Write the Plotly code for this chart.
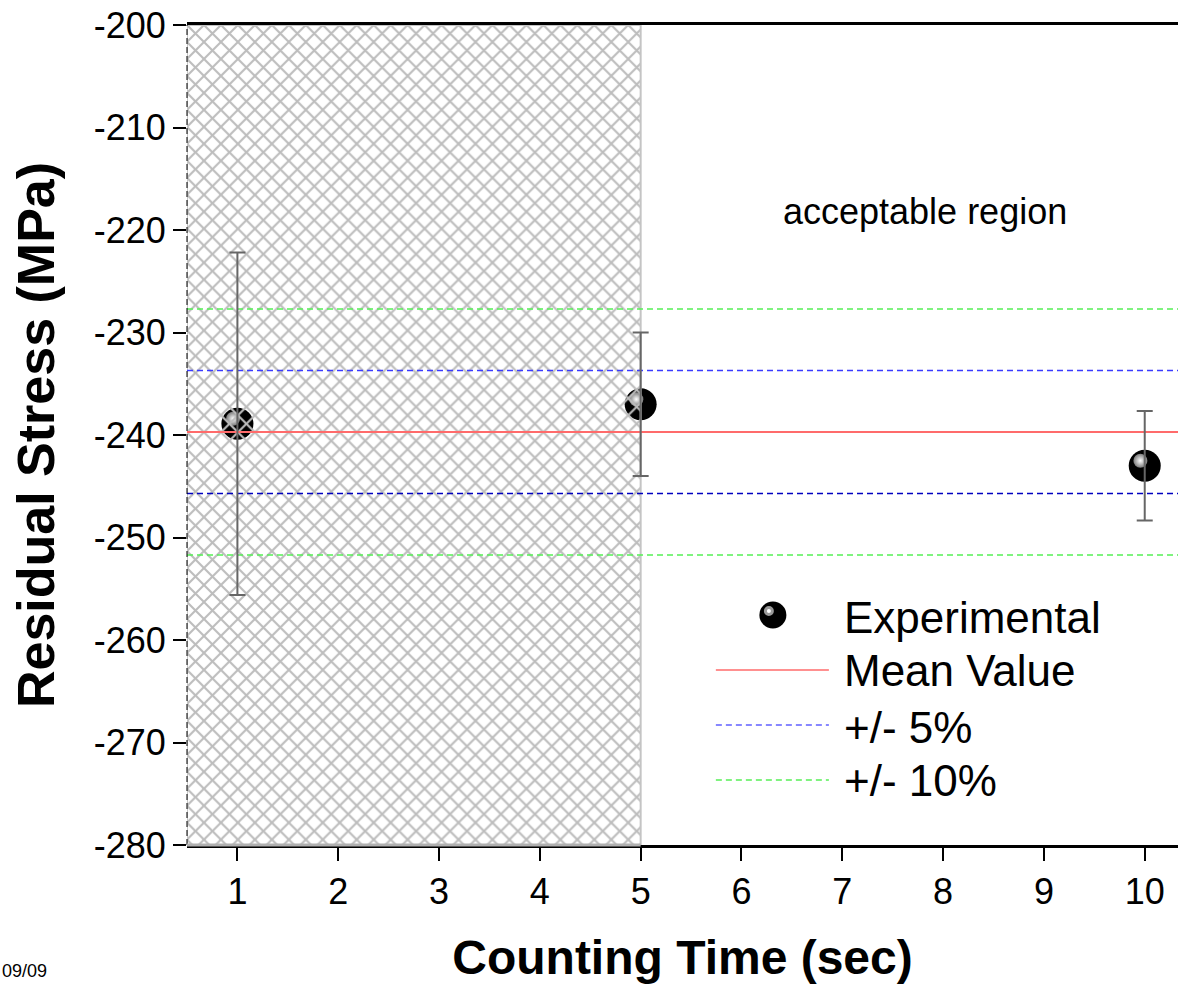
import plotly.graph_objects as go

# ---- data ----
counting_time = [1, 5, 10]
residual_stress = [-238.9, -237.0, -243.0]
stress_error = [16.7, 7.0, 5.35]

mean_value = -239.7
band5 = [-233.7, -245.7]
band10 = [-227.7, -251.7]

x_range = [0.5, 10.33]
y_range = [-280, -200]
region_x = [0.5, 5]          # non-acceptable (hatched) counting times

x_ticks = [1, 2, 3, 4, 5, 6, 7, 8, 9, 10]
y_ticks = [-280, -270, -260, -250, -240, -230, -220, -210, -200]
y_ticktext = ["-280", "-270", "-260", "-250", "-240", "-230", "-220", "-210", "-200"]

FONT = "Arial, Liberation Sans, sans-serif"

fig = go.Figure()

# black spheres (beneath the hatch)
fig.add_trace(go.Scatter(
    x=counting_time, y=residual_stress, mode="markers",
    marker=dict(size=32, color="black", line=dict(width=0)),
    showlegend=False, hoverinfo="skip"))

# highlight on the spheres (overlay axes shifted a few pixels up-left)
hx, hy = 0.043, 0.49
fig.add_trace(go.Scatter(
    x=counting_time, y=residual_stress, mode="markers",
    marker=dict(size=14, color="#7a7a7a", line=dict(width=0),
                gradient=dict(type="radial", color="white")),
    xaxis="x2", yaxis="y2", showlegend=False, hoverinfo="skip"))

# hatched region
fig.add_trace(go.Scatter(
    x=[region_x[0], region_x[1], region_x[1], region_x[0], region_x[0]],
    y=[y_range[0], y_range[0], y_range[1], y_range[1], y_range[0]],
    mode="lines", fill="toself", fillcolor="rgba(0,0,0,0)",
    fillpattern=dict(shape="x", fgcolor="#bdbdbd", bgcolor="rgba(0,0,0,0)",
                     size=12, solidity=0.32, fgopacity=1),
    line=dict(color="#c4c4c4", width=2),
    xaxis="x3", yaxis="y3", showlegend=False, hoverinfo="skip"))

# reference lines
def hline(y, color, dash, width=1.5):
    fig.add_trace(go.Scatter(
        x=x_range, y=[y, y], mode="lines",
        line=dict(color=color, width=width, dash=dash),
        xaxis="x3", yaxis="y3", showlegend=False, hoverinfo="skip"))

hline(band10[0], "#55f055", "6px,4px")
hline(band10[1], "#55f055", "6px,4px")
hline(band5[0], "#3a3aff", "6px,4px")
hline(band5[1], "#0000c0", "6px,4px")
hline(mean_value, "#ff6b6b", "solid", 2)

# error bars (above hatch)
fig.add_trace(go.Scatter(
    x=counting_time, y=residual_stress, mode="markers",
    marker=dict(size=1, color="rgba(0,0,0,0)"),
    error_y=dict(type="data", array=stress_error, symmetric=True,
                 color="#666666", thickness=2, width=8),
    xaxis="x3", yaxis="y3", showlegend=False, hoverinfo="skip"))

# ---- manual legend ----
L, B, W, H = 187.3, 845.0, 990.7, 820.0
def px(x): return (x - L) / W
def py(y): return (B - y) / H

shapes = []
# legend sphere
shapes.append(dict(type="circle", xref="paper", yref="paper",
                   xsizemode="pixel", ysizemode="pixel",
                   xanchor=px(773), yanchor=py(615),
                   x0=-13.5, x1=13.5, y0=-13.5, y1=13.5,
                   fillcolor="black", line=dict(width=0)))
shapes.append(dict(type="circle", xref="paper", yref="paper",
                   xsizemode="pixel", ysizemode="pixel",
                   xanchor=px(769), yanchor=py(611),
                   x0=-5, x1=5, y0=-5, y1=5,
                   fillcolor="#9a9a9a", line=dict(width=0)))
shapes.append(dict(type="circle", xref="paper", yref="paper",
                   xsizemode="pixel", ysizemode="pixel",
                   xanchor=px(769), yanchor=py(611),
                   x0=-2, x1=2, y0=-2, y1=2,
                   fillcolor="white", line=dict(width=0)))
for yy, col, dash in [(670, "#ff6b6b", "solid"), (725, "#6060ff", "6px,4px"),
                      (780, "#55f055", "6px,4px")]:
    shapes.append(dict(type="line", xref="paper", yref="paper",
                       x0=px(716), x1=px(829), y0=py(yy), y1=py(yy),
                       line=dict(color=col, width=1.5, dash=dash)))

# left border dashed, grey bottom under hatch
shapes.append(dict(type="line", xref="x domain", yref="y domain",
                   x0=0, x1=0, y0=0, y1=1, layer="above",
                   line=dict(color="black", width=1, dash="6px,3px")))
shapes.append(dict(type="line", xref="x", yref="y domain",
                   x0=region_x[0], x1=region_x[1], y0=0, y1=0, layer="above",
                   line=dict(color="#b0b0b0", width=3)))

annotations = []
for yy, txt in [(617, "Experimental"), (670, "Mean Value"),
                (727, "+/- 5%"), (780, "+/- 10%")]:
    annotations.append(dict(xref="paper", yref="paper", x=px(842), y=py(yy),
                            xanchor="left", yanchor="middle", text=txt,
                            showarrow=False, font=dict(family=FONT, size=44, color="black")))
annotations.append(dict(xref="x", yref="y", x=7.82, y=-218.2, text="acceptable region",
                        showarrow=False, font=dict(family=FONT, size=36, color="black")))
annotations.append(dict(xref="paper", yref="paper", x=px(0), y=py(983),
                        xanchor="left", yanchor="bottom", text="09/09",
                        showarrow=False, font=dict(family=FONT, size=18, color="black")))

axis_common = dict(showgrid=False, zeroline=False)
fig.update_layout(
    width=1178, height=985,
    margin=dict(l=187, r=0, t=25, b=140),
    paper_bgcolor="white", plot_bgcolor="white",
    font=dict(family=FONT, color="black"),
    shapes=shapes, annotations=annotations,
    xaxis=dict(range=x_range, tickvals=x_ticks, ticks="outside", ticklen=13,
               tickwidth=2, tickcolor="black", showline=True, linecolor="black",
               linewidth=3, mirror=True, tickfont=dict(size=36),
               title=dict(text="<b>Counting Time (sec)</b>", font=dict(size=48), standoff=30),
               **axis_common),
    yaxis=dict(range=y_range, tickvals=y_ticks, ticktext=y_ticktext, ticks="outside", ticklen=13,
               tickwidth=2, tickcolor="black", showline=False, tickfont=dict(size=36),
               title=dict(text="<b>Residual Stress (MPa)</b>", font=dict(size=52), standoff=22),
               **axis_common),
    xaxis2=dict(range=[x_range[0] + hx, x_range[1] + hx], overlaying="x", visible=False, **axis_common),
    yaxis2=dict(range=[y_range[0] - hy, y_range[1] - hy], overlaying="y", visible=False, **axis_common),
    xaxis3=dict(range=x_range, overlaying="x", visible=False, **axis_common),
    yaxis3=dict(range=y_range, overlaying="y", visible=False, **axis_common),
    showlegend=False,
)

fig.write_html("out.html")
